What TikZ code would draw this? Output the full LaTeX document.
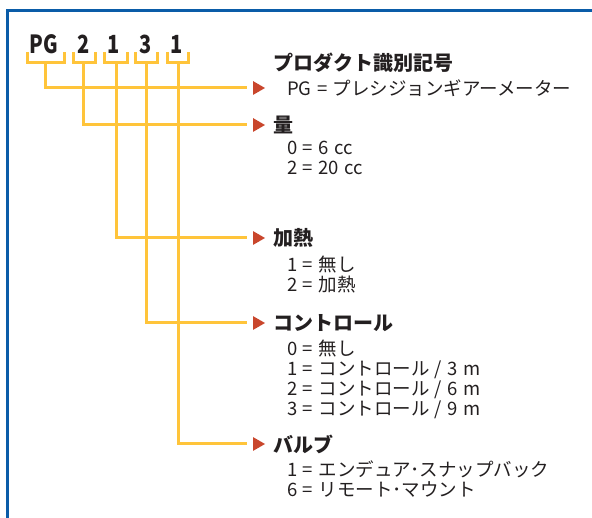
\documentclass[tikz,border=0pt]{standalone}
\usepackage{fontspec}
\setmainfont[WordSpace=1.3]{Noto Sans CJK JP}
\newfontfamily\codefont[FakeStretch=0.8]{Noto Sans CJK JP}
\usetikzlibrary{positioning,shapes.geometric}
\definecolor{wireyellow}{HTML}{FFC43A}
\definecolor{tipred}{HTML}{C9462C}
\definecolor{frameblue}{HTML}{0A5CA8}
\definecolor{ink}{HTML}{231F20}
\begin{document}
\begin{tikzpicture}[x=1pt,y=-1pt,
    wire/.style={wireyellow,line width=3pt},
    tip/.style={regular polygon,regular polygon sides=3,shape border rotate=-90,
        fill=tipred,inner sep=0pt,minimum size=16pt},
    code/.style={font=\codefont\bfseries\fontsize{25}{25}\selectfont,text=ink,inner sep=0pt},
    head/.style={font=\bfseries\fontsize{20}{22}\selectfont,text=ink,inner sep=0pt},
    item/.style={font=\fontsize{18.5}{20}\selectfont,text=ink,inner sep=0pt,
        align=left,anchor=north west,execute at begin node=\strut}]
    \useasboundingbox (0,0) rectangle (592,518);
    %% frame
    \draw[frameblue,line width=3pt] (7.5,530) -- (7.5,11) -- (600,11);
    %% product code
    \node[code] (pg) at (44,44) {PG};
    \node[code] (vol) at (84,44) {2};
    \node[code] (heat) at (114,44) {1};
    \node[code] (ctrl) at (146,44) {3};
    \node[code] (valve) at (177,44) {1};
    %% arrow tips
    \node[tip] (tpg) at (257,88) {};
    \node[tip] (tvol) at (257,125) {};
    \node[tip] (theat) at (257,238) {};
    \node[tip] (tctrl) at (257,323) {};
    \node[tip] (tvalve) at (257,444) {};
    %% brackets and leads
    \foreach \n/\a/\b/\s in {pg/27/64/45, vol/73/95/83, heat/104/127/116,
                             ctrl/135/157/146, valve/167/188/178} {
        \draw[wire] (\a,52) |- (\b,63) -- (\b,52);
        \coordinate (s\n) at (\s,63);
        \draw[wire] (s\n) |- ([xshift=-6pt]t\n.west);
    }
    %% headings
    \node[head,anchor=west] (hpg) at (273,63) {プロダクト識別記号};
    \node[head,right=8pt of tvol] (hvol) {量};
    \node[head,right=8pt of theat] (hheat) {加熱};
    \node[head,right=8pt of tctrl] (hctrl) {コントロール};
    \node[head,right=8pt of tvalve] (hvalve) {バルブ};
    %% options
    \node[item] (ipg) at ([xshift=30pt,yshift=8.5pt]tpg.center)
        {PG = プレシジョンギアーメーター};
    \node[item] (ivol) at ([xshift=30pt,yshift=-15.5pt]tvol.center)
        {0 = 6 cc\\2 = 20 cc};
    \node[item] (iheat) at ([xshift=30pt,yshift=-17.5pt]theat.center)
        {1 = 無し\\2 = 加熱};
    \node[item] (ictrl) at ([xshift=30pt,yshift=-16.5pt]tctrl.center)
        {0 = 無し\\1 = コントロール / 3 m\\2 = コントロール / 6 m\\3 = コントロール / 9 m};
    \node[item] (ivalve) at ([xshift=30pt,yshift=-16.5pt]tvalve.center)
        {1 = エンデュア･スナップバック\\6 = リモート･マウント};
\end{tikzpicture}
\end{document}
